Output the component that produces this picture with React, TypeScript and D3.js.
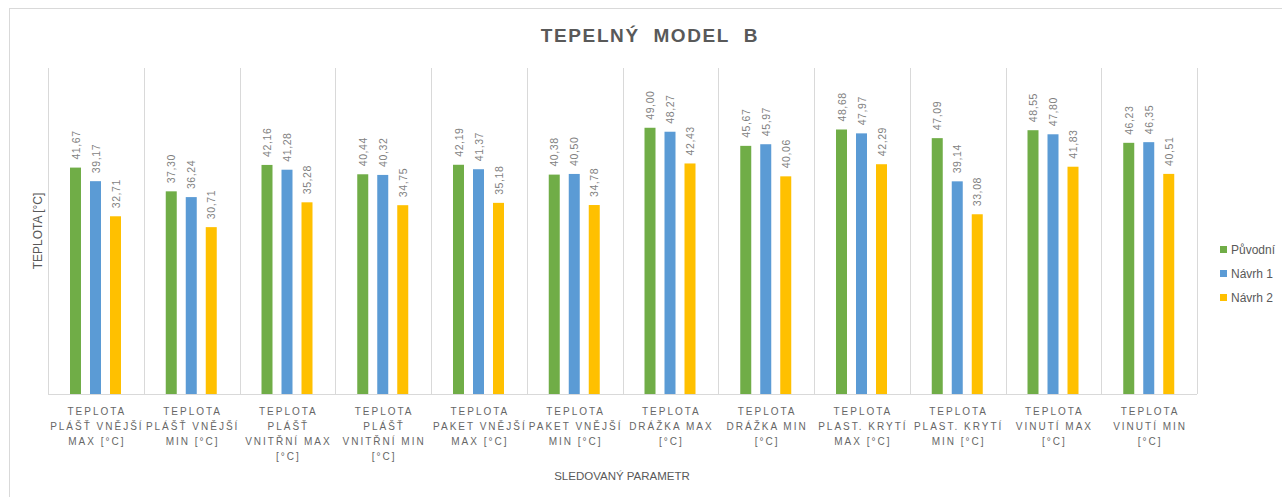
import React from 'react';
import * as d3 from 'd3';

const categories = [
  ['TEPLOTA', 'PLÁŠŤ VNĚJŠÍ', 'MAX [°C]'],
  ['TEPLOTA', 'PLÁŠŤ VNĚJŠÍ', 'MIN [°C]'],
  ['TEPLOTA', 'PLÁŠŤ', 'VNITŘNÍ MAX', '[°C]'],
  ['TEPLOTA', 'PLÁŠŤ', 'VNITŘNÍ MIN', '[°C]'],
  ['TEPLOTA', 'PAKET VNĚJŠÍ', 'MAX [°C]'],
  ['TEPLOTA', 'PAKET VNĚJŠÍ', 'MIN [°C]'],
  ['TEPLOTA', 'DRÁŽKA MAX', '[°C]'],
  ['TEPLOTA', 'DRÁŽKA MIN', '[°C]'],
  ['TEPLOTA', 'PLAST. KRYTÍ', 'MAX [°C]'],
  ['TEPLOTA', 'PLAST. KRYTÍ', 'MIN [°C]'],
  ['TEPLOTA', 'VINUTÍ MAX', '[°C]'],
  ['TEPLOTA', 'VINUTÍ MIN', '[°C]'],
];

const seriesNames = ['Původní', 'Návrh 1', 'Návrh 2'];
const puvodni = [41.67, 37.3, 42.16, 40.44, 42.19, 40.38, 49.0, 45.67, 48.68, 47.09, 48.55, 46.23];
const navrh1 = [39.17, 36.24, 41.28, 40.32, 41.37, 40.5, 48.27, 45.97, 47.97, 39.14, 47.8, 46.35];
const navrh2 = [32.71, 30.71, 35.28, 34.75, 35.18, 34.78, 42.43, 40.06, 42.29, 33.08, 41.83, 40.51];
const colors = ['#70AD47', '#5B9BD5', '#FFC000'];

const W = 1282;
const H = 497;
const margin = { left: 48, right: 85, top: 68, bottom: 103 };
const font = "'Liberation Sans', Arial, sans-serif";

export default function App() {
  const series = [puvodni, navrh1, navrh2];
  const idx = categories.map((_, i) => i);
  const x0 = d3.scaleBand<number>().domain(idx).range([margin.left, W - margin.right]);
  const x1 = d3
    .scaleBand<number>()
    .domain([0, 1, 2])
    .range([22, 22 + 51])
    .paddingInner(0.45);
  const y = d3.scaleLinear().domain([0, 60]).range([H - margin.bottom, margin.top]);
  const bw = 11;

  return (
    <svg width={W} height={H} style={{ position: 'absolute', left: 0, top: 0 }}>
      <rect x={0} y={0} width={W} height={H} fill="#fff" />
      <rect x={9.5} y={8.5} width={W} height={H} fill="none" stroke="#d9d9d9" />
      <text
        x={650}
        y={42}
        textAnchor="middle"
        fontFamily={font}
        fontSize={19}
        fontWeight="bold"
        letterSpacing={1.6}
        fill="#595959"
      >
        TEPELNÝ&#160; MODEL&#160; B
      </text>

      {/* gridlines at category boundaries */}
      {idx.concat([idx.length]).map(i => {
        const xx = Math.round(margin.left + i * x0.step()) + 0.5;
        return <line key={i} x1={xx} x2={xx} y1={y(60)} y2={y(0)} stroke="#d9d9d9" />;
      })}
      <line x1={margin.left} x2={W - margin.right} y1={y(0) + 0.5} y2={y(0) + 0.5} stroke="#d9d9d9" />

      {idx.map(i => (
        <g key={i} transform={`translate(${x0(i)},0)`}>
          {series.map((s, j) => {
            const bx = (x1(j) as number) + (x1.bandwidth() - bw) / 2;
            return (
              <g key={j}>
                <rect x={bx} y={y(s[i])} width={bw} height={y(0) - y(s[i])} fill={colors[j]} />
                <text
                  transform={`translate(${bx + bw / 2 + 4},${y(s[i]) - 8}) rotate(-90)`}
                  fontFamily={font}
                  fontSize={10.5}
                  letterSpacing={0.6}
                  fill="#7f7f7f"
                >
                  {s[i].toFixed(2).replace('.', ',')}
                </text>
              </g>
            );
          })}
          {categories[i].map((line, k) => (
            <text
              key={k}
              x={x0.bandwidth() / 2 + 1}
              y={415 + k * 15}
              textAnchor="middle"
              fontFamily={font}
              fontSize={10}
              letterSpacing={2}
              fill="#666"
            >
              {line}
            </text>
          ))}
        </g>
      ))}

      <text
        transform={`translate(42,${(y(0) + y(60)) / 2}) rotate(-90)`}
        textAnchor="middle"
        fontFamily={font}
        fontSize={12}
        fill="#595959"
      >
        TEPLOTA [°C]
      </text>
      <text x={622} y={480} textAnchor="middle" fontFamily={font} fontSize={11.5} fill="#595959">
        SLEDOVANÝ PARAMETR
      </text>

      {seriesNames.map((n, j) => (
        <g key={n} transform={`translate(1220,${250 + j * 24})`}>
          <rect x={0} y={-4} width={7} height={7} fill={colors[j]} />
          <text x={11} y={4} fontFamily={font} fontSize={12} fill="#595959">
            {n}
          </text>
        </g>
      ))}
    </svg>
  );
}
